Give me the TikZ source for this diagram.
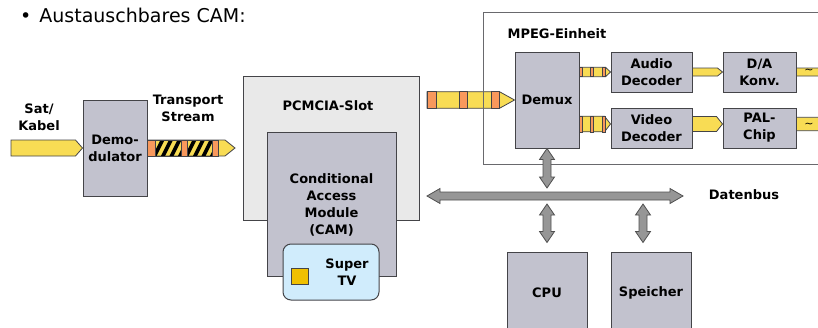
\documentclass[tikz,border=0pt]{standalone}
\usepackage{fontspec}
\setmainfont{DejaVu Sans}
\usetikzlibrary{calc}

\definecolor{boxline}{RGB}{68,68,72}
\definecolor{boxgray}{RGB}{194,194,206}
\definecolor{slotgray}{RGB}{233,233,233}
\definecolor{streamyellow}{RGB}{248,220,84}
\definecolor{bandorange}{RGB}{248,152,92}
\definecolor{busgray}{RGB}{150,150,150}
\definecolor{busline}{RGB}{80,80,80}
\definecolor{tvblue}{RGB}{208,236,252}
\definecolor{chipyellow}{RGB}{240,192,0}

\newcommand\labelfont{\fontsize{13}{17}\selectfont\bfseries}

\tikzset{
  block/.style={draw=boxline, fill=boxgray, line width=1pt, align=center,
    font=\labelfont, inner sep=0pt},
  txt/.style={align=center, font=\labelfont, inner sep=0pt},
  stream/.style={draw=boxline, line width=0.8pt, fill=streamyellow},
  band/.style={draw=boxline, line width=0.7pt, fill=bandorange},
  bus/.style={draw=busline, line width=0.8pt, fill=busgray},
  tilde/.style={font=\fontsize{11}{11}\selectfont, inner sep=0pt},
}

% yellow data stream from #1 to #2, half height #3, tip length #4
\newcommand\datastream[4]{%
  \draw[stream] let \p1=#1, \p2=#2 in
    (\x1,\y1+#3) -- (\x2-#4,\y1+#3) -- (\x2,\y1) -- (\x2-#4,\y1-#3)
    -- (\x1,\y1-#3) -- cycle;}

% gray double arrows, vertical (#1 on top) and horizontal (#1 left)
\newcommand\vbus[2]{%
  \draw[bus] let \p1=#1, \p2=#2 in
    (\x1,\y1) -- (\x1+7.5pt,\y1-11pt) -- (\x1+4pt,\y1-11pt) -- (\x1+4pt,\y2+11pt)
    -- (\x1+7.5pt,\y2+11pt) -- (\x1,\y2) -- (\x1-7.5pt,\y2+11pt) -- (\x1-4pt,\y2+11pt)
    -- (\x1-4pt,\y1-11pt) -- (\x1-7.5pt,\y1-11pt) -- cycle;}
\newcommand\hbus[2]{%
  \draw[bus] let \p1=#1, \p2=#2 in
    (\x1,\y1) -- (\x1+13pt,\y1+7.5pt) -- (\x1+13pt,\y1+4pt) -- (\x2-13pt,\y1+4pt)
    -- (\x2-13pt,\y1+7.5pt) -- (\x2,\y1) -- (\x2-13pt,\y1-7.5pt) -- (\x2-13pt,\y1-4pt)
    -- (\x1+13pt,\y1-4pt) -- (\x1+13pt,\y1-7.5pt) -- cycle;}

\begin{document}
\begin{tikzpicture}[x=1pt, y=-1pt]
\useasboundingbox (0,0) rectangle (818,327);

\node[anchor=base west, font=\fontsize{19}{21}\selectfont, inner sep=0pt] (title) at (20,22)
  {•\hspace{8pt}Austauschbares CAM:};

% receiver front end
\node[txt] (satkabel) at (39,117) {Sat/\\Kabel};
\node[block, minimum width=64, minimum height=96] (demod) at (115,148) {Demo-\\dulator};
\node[txt] (tslabel) at (188,108) {Transport\\Stream};

% slot with the module
\node[draw=boxline, fill=slotgray, line width=1pt, minimum width=176, minimum height=144,
  inner sep=0pt] (pcmcia) at (331,148) {};
\node[txt] (pcmcialabel) at (328,106) {PCMCIA-Slot};
\node[block, minimum width=129, minimum height=144] (cam) at (331.5,204) {};
\node[txt] (camlabel) at (331.5,205) {Conditional\\Access\\Module\\(CAM)};
\node[draw=boxline, fill=tvblue, line width=1pt, rounded corners=8pt,
  minimum width=96, minimum height=56, inner sep=0pt] (supertv) at (331,272) {};
\node[draw=boxline, fill=chipyellow, line width=0.8pt, minimum width=17,
  minimum height=16, inner sep=0pt] (chip) at (299.5,276) {};
\node[txt] (supertvlabel) at (347,272) {Super\\TV};

% input and transport stream
\coordinate (satin) at (11,148);
\coordinate (tsend) at (235,148);
\datastream{(satin)}{(demod.west)}{8pt}{7pt}
\datastream{(demod.east)}{(tsend)}{8pt}{10pt}
\foreach \a/\b in {155/181, 187/212} {
  \begin{scope}
    \clip (\a,140) rectangle (\b,156);
    \foreach \k in {-18,-9.5,...,30}
      \draw[line width=3.6pt] (\a+\k,157) -- (\a+\k+9,139);
  \end{scope}
}
\foreach \a/\b in {147/155, 181/187, 212/218}
  \draw[band] (\a,140) rectangle (\b,156);
\draw[boxline, line width=0.8pt] (155,140) -- (212,140) (155,156) -- (212,156);

% MPEG unit
\node[block, minimum width=64, minimum height=96] (demux) at (547,100) {Demux};
\node[block, minimum width=81, minimum height=40] (audiodec) at (651.5,72) {Audio\\Decoder};
\node[block, minimum width=81, minimum height=40] (videodec) at (651.5,128) {Video\\Decoder};
\node[block, minimum width=73, minimum height=40] (dakonv) at (759.5,72) {D/A\\Konv.};
\node[block, minimum width=73, minimum height=40] (palchip) at (759.5,128) {PAL-\\Chip};

\coordinate (demuxin) at (427,100);
\datastream{(demuxin)}{(demux.west)}{8.3pt}{15pt}
\foreach \a/\b in {427/436, 459/467, 491/499}
  \draw[band] (\a,91.7) rectangle (\b,108.3);

\datastream{(demux.east |- audiodec.west)}{(audiodec.west)}{4.7pt}{5pt}
\datastream{($(demux.east |- videodec.west)+(0,-4)$)}{($(videodec.west)+(0,-4)$)}{7.8pt}{6pt}
\foreach \a in {579, 590, 602} {
  \draw[band, line width=0.6pt] (\a,67.3) rectangle (\a+3,76.7);
  \draw[band, line width=0.6pt] (\a,116.2) rectangle (\a+3,131.8);
}
\datastream{(audiodec.east)}{(dakonv.west)}{4pt}{5pt}
\datastream{($(videodec.east)+(0,-4)$)}{($(palchip.west)+(0,-4)$)}{7.5pt}{6pt}

\coordinate (audioout) at (845,72);
\coordinate (videoout) at (845,124);
\datastream{(dakonv.east)}{(audioout)}{4pt}{5pt}
\datastream{($(palchip.east)+(0,-4)$)}{(videoout)}{6.7pt}{6pt}
\node[tilde] (audiotilde) at (809,71.5) {\textasciitilde};
\node[tilde] (videotilde) at (809,125) {\textasciitilde};

\draw[color=boxline!80, line width=1pt] (483,12) rectangle (830,164);
\node[txt] (mpeglabel) at (557,34) {MPEG-Einheit};

% data bus
\coordinate (busL) at (427,196);
\coordinate (busR) at (683,196);
\coordinate (bustop) at (0,188);
\coordinate (busbot) at (0,204);
\hbus{(busL)}{(busR)}
\node[txt] (datenbus) at (744,195) {Datenbus};

\node[block, minimum width=80, minimum height=81] (cpu) at (547,292.5) {CPU};
\node[block, minimum width=80, minimum height=81] (speicher) at (651,292.5) {Speicher};

\vbus{(demux.south)}{(demux.south |- bustop)}
\vbus{(cpu.north |- busbot)}{($(cpu.north)+(0,-9)$)}
\vbus{($(speicher.north |- busbot)+(-8,0)$)}{($(speicher.north)+(-8,-9)$)}

\end{tikzpicture}
\end{document}
